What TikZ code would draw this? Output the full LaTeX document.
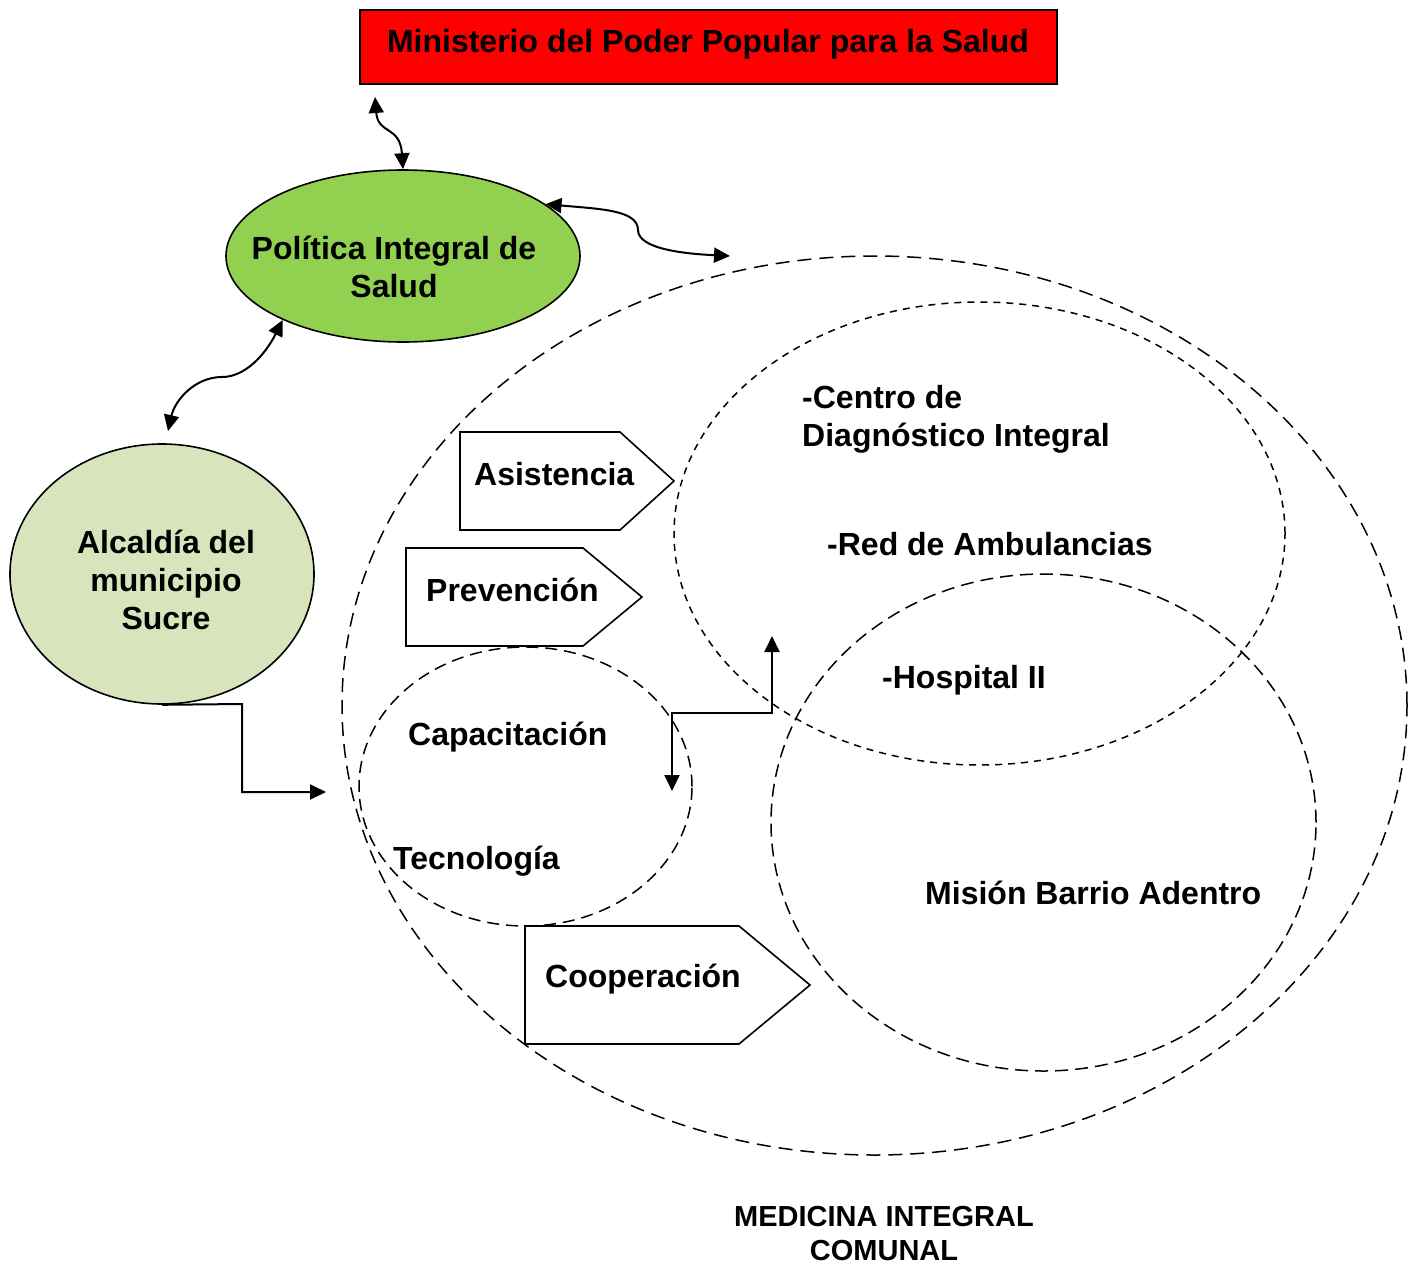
\documentclass[tikz,border=0pt]{standalone}
\usepackage{fontspec}
\setmainfont{Liberation Sans}
\usetikzlibrary{shapes.geometric,arrows.meta}
\definecolor{polgreen}{HTML}{92D050}
\definecolor{alcgreen}{HTML}{D7E4BC}
\begin{document}
\begin{tikzpicture}[x=1pt,y=-1pt,
  lbl/.style={font=\fontsize{32}{38}\selectfont\bfseries, inner sep=0pt, align=center, anchor=base},
  lblL/.style={font=\fontsize{32}{38}\selectfont\bfseries, inner sep=0pt, align=left, anchor=base west},
  oval/.style={draw, ellipse, line width=1.6pt, inner sep=0pt},
  region/.style={draw, ellipse, line width=1.5pt, inner sep=0pt},
  tag/.style={draw, line width=1.6pt, line join=miter},
  conn/.style={line width=2pt, {Triangle[length=16pt,width=15pt]}-{Triangle[length=16pt,width=15pt]}},
  conn1/.style={line width=2pt, -{Triangle[length=16pt,width=15pt]}}]
\useasboundingbox (0,0) rectangle (1416,1266);

% regions
\node[region, dash pattern=on 14pt off 8pt, minimum width=1065pt, minimum height=899pt] (big) at (874.5,705.5) {};
\node[region, dash pattern=on 7pt off 6pt, minimum width=611pt, minimum height=463pt] (cdi) at (979.5,533.5) {};
\node[region, dash pattern=on 13pt off 7pt, minimum width=545pt, minimum height=497pt] (mba) at (1043.5,822.5) {};
\node[region, dash pattern=on 12pt off 7pt, minimum width=333pt, minimum height=279pt] (cap) at (525.5,786.5) {};

% top box
\node[draw, line width=2pt, fill=red, minimum width=697pt, minimum height=74pt, inner sep=0pt] (min) at (708.5,47) {};
\node[lbl] (minL) at (708,52) {Ministerio del Poder Popular para la Salud};

% ellipses
\node[oval, fill=polgreen, minimum width=354pt, minimum height=172pt] (pol) at (403,256) {};
\node[lbl] (polL) at (394,297) {Política Integral de\\Salud};
\node[oval, fill=alcgreen, minimum width=304pt, minimum height=260pt] (alc) at (162,574) {};
\node[lbl] (alcL) at (166,629) {Alcaldía del\\municipio\\Sucre};

% tags
\draw[tag] (460,432) -- (620,432) -- (674,481) -- (620,530) -- (460,530) -- cycle;
\node[lblL] (asi) at (474,485) {Asistencia};
\draw[tag] (406,548) -- (583,548) -- (642,597) -- (583,646) -- (406,646) -- cycle;
\node[lblL] (pre) at (426,601) {Prevención};
\draw[tag] (525,926) -- (739,926) -- (810,985) -- (739,1044) -- (525,1044) -- cycle;
\node[lblL] (coo) at (545,987) {Cooperación};

% texts
\node[lblL] (cen) at (802,446) {-Centro de\\Diagnóstico Integral};
\node[lblL] (red) at (827,555) {-Red de Ambulancias};
\node[lblL] (hos) at (882,688) {-Hospital II};
\node[lblL] (capL) at (408,745) {Capacitación};
\node[lblL] (tec) at (393,869) {Tecnología};
\node[lblL] (mis) at (925,904) {Misión Barrio Adentro};
\node[font=\fontsize{29}{34}\selectfont\bfseries, inner sep=0pt, align=center, anchor=base] (mic) at (884,1260) {MEDICINA INTEGRAL\\COMUNAL};

% connectors
\coordinate (m1) at (375,97);
\draw[conn] (m1) .. controls (378,135) and (400,125) .. (pol.north);
\coordinate (bigin) at (730,256);
\draw[conn] (pol.20) .. controls (600,209) and (638,210) .. (638,230) .. controls (638,250) and (690,254) .. (bigin);
\coordinate (a3) at (168,431);
\draw[conn] (pol.208) .. controls (265,355) and (245,377) .. (222,377) .. controls (195,377) and (175,400) .. (a3);
\coordinate (alcin) at (326,792);
\draw[conn1] (alc.south) -- (242,704) -- (242,792) -- (alcin);
\coordinate (s1) at (672,791);
\coordinate (s2) at (772,636);
\draw[conn, line join=miter] (s1) -- (672,713) -- (772,713) -- (s2);
\end{tikzpicture}
\end{document}
